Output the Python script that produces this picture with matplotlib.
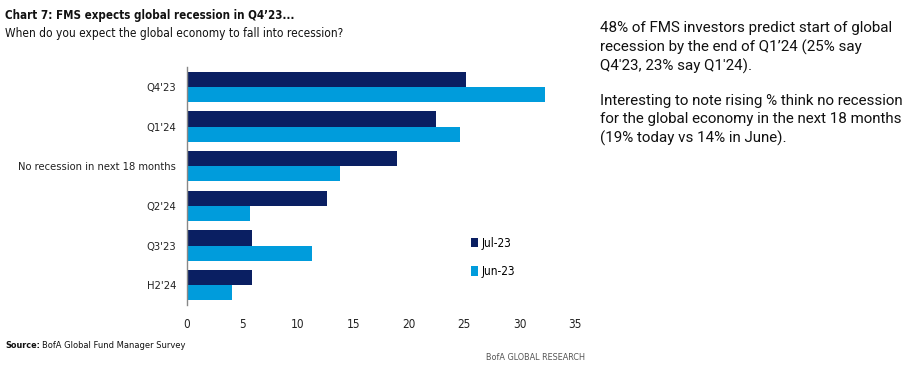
import matplotlib
matplotlib.use("Agg")
import matplotlib.pyplot as plt
import numpy as np

categories = ["Q4'23", "Q1'24", "No recession in next 18 months", "Q2'24", "Q3'23", "H2'24"]
jul23 = [25.2, 22.5, 18.9, 12.6, 5.9, 5.9]
jun23 = [32.3, 24.6, 13.8, 5.7, 11.3, 4.1]
series_names = ["Jul-23", "Jun-23"]
xticks = [0, 5, 10, 15, 20, 25, 30, 35]

NAVY = "#0A1F62"
BLUE = "#009CDC"
NARROW = ["DejaVu Sans"]
ST = "condensed"

W, H = 923, 373
fig = plt.figure(figsize=(W/100, H/100), dpi=100)
ax = fig.add_axes([187/W, 1-305/H, (575-187)/W, (305-67)/H])

y = np.arange(len(categories))
bh = 0.38
ax.barh(y - bh/2, jul23, height=bh, color=NAVY, label=series_names[0])
ax.barh(y + bh/2, jun23, height=bh, color=BLUE, label=series_names[1])
ax.set_ylim(len(categories) - 0.5, -0.5)
ax.set_xlim(0, 35)
ax.set_xticks(xticks)
ax.set_xticklabels([str(t) for t in xticks], fontfamily=NARROW, fontstretch=ST, fontsize=8.5)
ax.set_yticks(y)
ax.set_yticklabels(categories, fontfamily=NARROW, fontstretch=ST, fontsize=8)
ax.tick_params(axis="both", length=0, pad=8, colors="#222222")
ax.tick_params(axis="x", pad=9)
for s in ["top", "right", "bottom"]:
    ax.spines[s].set_visible(False)
ax.spines["left"].set_color("#888888")
ax.spines["left"].set_linewidth(1.0)

leg = ax.legend(loc="upper left", bbox_to_anchor=((460-187)/(575-187), 1-(226-67)/(305-67)),
                frameon=False, prop={"family": NARROW, "stretch": ST, "size": 8.5},
                handlelength=0.6, handleheight=0.9, handletextpad=0.3, labelspacing=1.3)

fig.text(5/W, 1-15/H, "Chart 7: FMS expects global recession in Q4\u201923...", fontfamily=NARROW,
         fontstretch=ST, fontweight="bold", fontsize=8.3, va="center", ha="left", color="#111111")
fig.text(5/W, 1-33/H, "When do you expect the global economy to fall into recession?", fontfamily=NARROW,
         fontstretch=ST, fontsize=8.6, va="center", ha="left", color="#111111")

fig.text(5/W, 1-345/H, "Source:", fontfamily=NARROW, fontstretch=ST, fontweight="bold", fontsize=6.5,
         va="center", ha="left", color="#111111")
fig.text(42/W, 1-345/H, "BofA Global Fund Manager Survey", fontfamily=NARROW, fontstretch=ST, fontsize=6.7,
         va="center", ha="left", color="#111111")
fig.text(536/W, 1-358/H, "BofA GLOBAL RESEARCH", fontfamily=NARROW, fontstretch=ST, fontsize=6.5,
         va="center", ha="center", color="#555555")

para1 = "48% of FMS investors predict start of global\nrecession by the end of Q1\u201924 (25% say\nQ4'23, 23% say Q1'24)."
para2 = "Interesting to note rising % think no recession\nfor the global economy in the next 18 months\n(19% today vs 14% in June)."
fig.text(600/W, 1-21/H, para1, fontfamily=["Roboto", "DejaVu Sans"], fontsize=10.9,
         va="top", ha="left", linespacing=1.36, color="#111111")
fig.text(600/W, 1-94/H, para2, fontfamily=["Roboto", "DejaVu Sans"], fontsize=10.9,
         va="top", ha="left", linespacing=1.36, color="#111111")

fig.savefig("out.png", dpi=100)
